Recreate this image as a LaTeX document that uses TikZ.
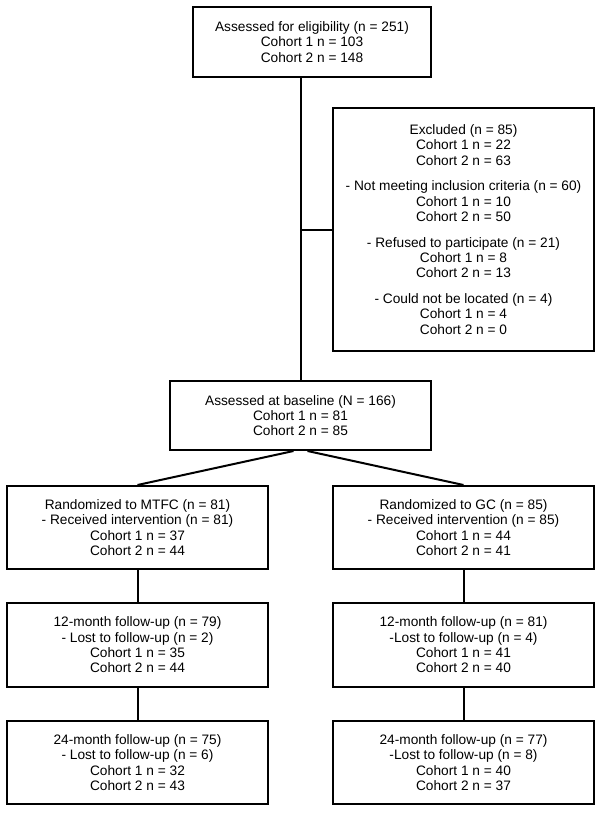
\documentclass[tikz,border=0pt]{standalone}
\usepackage{fontspec}
\setmainfont{Liberation Sans}
\tikzset{
  flowbox/.style = {
    draw, line width=2pt, align=center, inner sep=0pt,
    font=\fontsize{13.7}{15.3}\selectfont
  },
  flowline/.style = {line width=2pt}
}

\begin{document}
\begin{tikzpicture}[x=1pt,y=-1pt]
  \pgfmathsetmacro{\wbox}{261}        % width of the lower boxes
  \pgfmathsetmacro{\xleft}{137.5}     % x centre of left arm
  \pgfmathsetmacro{\xright}{463.5}    % x centre of right arm
  \useasboundingbox (0,0) rectangle (602,813);
  % enrolment
  \node[flowbox,minimum width=238pt,minimum height=70pt] (elig) at (312,42)
    {Assessed for eligibility (n = 251)\\Cohort 1 n = 103\\Cohort 2 n = 148};
  \node[flowbox,minimum width=\wbox pt,minimum height=243pt] (excl) at (\xright,229.5)
    {Excluded (n = 85)\\Cohort 1 n = 22\\Cohort 2 n = 63\\[10.5pt]
     - Not meeting inclusion criteria (n = 60)\\Cohort 1 n = 10\\Cohort 2 n = 50\\[10.5pt]
     - Refused to participate (n = 21)\\Cohort 1 n = 8\\Cohort 2 n = 13\\[10.5pt]
     - Could not be located (n = 4)\\Cohort 1 n = 4\\Cohort 2 n = 0};
  \node[flowbox,minimum width=\wbox pt,minimum height=69pt] (base) at (300.5,415.5)
    {Assessed at baseline (N = 166)\\Cohort 1 n = 81\\Cohort 2 n = 85};
  % allocation
  \node[flowbox,minimum width=\wbox pt,minimum height=83pt] (mtfc) at (\xleft,527.5)
    {Randomized to MTFC (n = 81)\\- Received intervention (n = 81)\\Cohort 1 n = 37\\Cohort 2 n = 44};
  \node[flowbox,minimum width=\wbox pt,minimum height=83pt] (gc) at (\xright,527.5)
    {Randomized to GC (n = 85)\\- Received intervention (n = 85)\\Cohort 1 n = 44\\Cohort 2 n = 41};
  % follow-up
  \node[flowbox,minimum width=\wbox pt,minimum height=84pt] (mtfcA) at (\xleft,645)
    {12-month follow-up (n = 79)\\- Lost to follow-up (n = 2)\\Cohort 1 n = 35\\Cohort 2 n = 44};
  \node[flowbox,minimum width=\wbox pt,minimum height=84pt] (gcA) at (\xright,645)
    {12-month follow-up (n = 81)\\-Lost to follow-up (n = 4)\\Cohort 1 n = 41\\Cohort 2 n = 40};
  \node[flowbox,minimum width=\wbox pt,minimum height=83pt] (mtfcB) at (\xleft,762.5)
    {24-month follow-up (n = 75)\\- Lost to follow-up (n = 6)\\Cohort 1 n = 32\\Cohort 2 n = 43};
  \node[flowbox,minimum width=\wbox pt,minimum height=83pt] (gcB) at (\xright,762.5)
    {24-month follow-up (n = 77)\\-Lost to follow-up (n = 8)\\Cohort 1 n = 40\\Cohort 2 n = 37};
  % connectors
  \coordinate (trunk) at (base.north |- elig.south);
  \coordinate (branch) at (base.north |- excl.west);
  \draw[flowline] (trunk) -- (base.north);
  \draw[flowline] (branch) -- (excl.west);
  \draw[flowline] ([xshift=-7pt]base.south) -- (mtfc.north);
  \draw[flowline] ([xshift=7pt]base.south) -- (gc.north);
  \draw[flowline] (mtfc.south) -- (mtfcA.north);
  \draw[flowline] (mtfcA.south) -- (mtfcB.north);
  \draw[flowline] (gc.south) -- (gcA.north);
  \draw[flowline] (gcA.south) -- (gcB.north);
\end{tikzpicture}
\end{document}
